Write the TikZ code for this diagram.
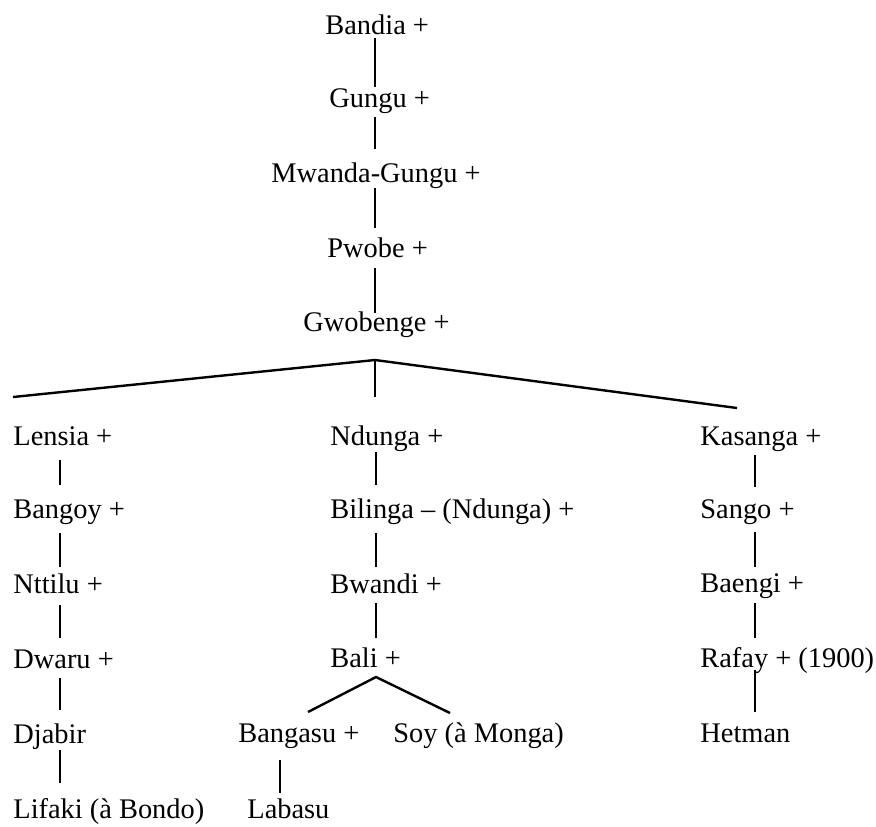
\documentclass[tikz,border=0pt]{standalone}
\usepackage{fontspec}
\setmainfont{Liberation Serif}
\usetikzlibrary{calc}
\begin{document}
\begin{tikzpicture}[x=0.5pt,y=-0.5pt,
  person/.style={anchor=base west,inner sep=0pt,font=\fontsize{14.2}{17}\selectfont},
  link/.style={line width=1.2pt,line cap=butt}]
\useasboundingbox (0,0) rectangle (876,826);

% vertical line positions of each line of descent
\coordinate (cM) at (375,0);
\coordinate (cL) at (60,0);
\coordinate (cC) at (376,0);
\coordinate (cR) at (755,0);
\coordinate (cB) at (280,0);

% #1 parent, #2 child, #3 column, #4 gap under parent, #5 gap above child
\newcommand\vlink[5]{\draw[link] ($(#1.base -| #3)+(0,#4)$) -- ($(#2.base -| #3)+(0,-#5)$);}

% main line
\node[person] (bandia)   at (325,34)  {Bandia +};
\node[person] (gungu)    at (329,107) {Gungu +};
\node[person] (mwanda)   at (271,182) {Mwanda-Gungu +};
\node[person] (pwobe)    at (327,257) {Pwobe +};
\node[person] (gwobenge) at (303,331) {Gwobenge +};

% left branch
\node[person] (lensia) at (13,445) {Lensia +};
\node[person] (bangoy) at (13,518) {Bangoy +};
\node[person] (nttilu) at (13,593) {Nttilu +};
\node[person] (dwaru)  at (13,668) {Dwaru +};
\node[person] (djabir) at (13,743) {Djabir};
\node[person] (lifaki) at (13,818) {Lifaki (à Bondo)};

% middle branch
\node[person] (ndunga)  at (330,445) {Ndunga +};
\node[person] (bilinga) at (330,518) {Bilinga – (Ndunga) +};
\node[person] (bwandi)  at (330,593) {Bwandi +};
\node[person] (bali)    at (330,667) {Bali +};
\node[person] (bangasu) at (238,742) {Bangasu +};
\node[person] (soy)     at (393,742) {Soy (à Monga)};
\node[person] (labasu)  at (247,818) {Labasu};

% right branch
\node[person] (kasanga) at (700,445) {Kasanga +};
\node[person] (sango)   at (700,518) {Sango +};
\node[person] (baengi)  at (700,592) {Baengi +};
\node[person] (rafay)   at (700,667) {Rafay + (1900)};
\node[person] (hetman)  at (700,742) {Hetman};

% main line links
\vlink{bandia}{gungu}{cM}{4}{20}
\vlink{gungu}{mwanda}{cM}{10}{33}
\vlink{mwanda}{pwobe}{cM}{6}{29}
\vlink{pwobe}{gwobenge}{cM}{11}{18}

% three-way split under Gwobenge
\coordinate (apex) at ($(gwobenge.base -| cM)+(0,29)$);
\coordinate (splitL) at (13,397);
\coordinate (splitR) at (737,408);
\coordinate (splitC) at ($(apex)+(0,37)$);
\draw[link,line join=miter] (splitL) -- (apex) -- (splitR);
\draw[link] (apex) -- (splitC);

% left branch links
\vlink{lensia}{bangoy}{cL}{15}{33}
\vlink{bangoy}{nttilu}{cL}{15}{26}
\vlink{nttilu}{dwaru}{cL}{12}{30}
\vlink{dwaru}{djabir}{cL}{10}{33}
\vlink{djabir}{lifaki}{cL}{7}{35}

% middle branch links
\vlink{ndunga}{bilinga}{cC}{7}{33}
\vlink{bilinga}{bwandi}{cC}{15}{26}
\vlink{bwandi}{bali}{cC}{10}{29}
\coordinate (baliapex) at ($(bali.base -| cC)+(0,10)$);
\coordinate (baliL) at (308,712);
\coordinate (baliR) at (450,713);
\draw[link,line join=miter] (baliL) -- (baliapex) -- (baliR);
\vlink{bangasu}{labasu}{cB}{18}{25}

% right branch links
\vlink{kasanga}{sango}{cR}{10}{31}
\vlink{sango}{baengi}{cR}{14}{25}
\vlink{baengi}{rafay}{cR}{11}{29}
\vlink{rafay}{hetman}{cR}{3}{30}
\end{tikzpicture}
\end{document}
